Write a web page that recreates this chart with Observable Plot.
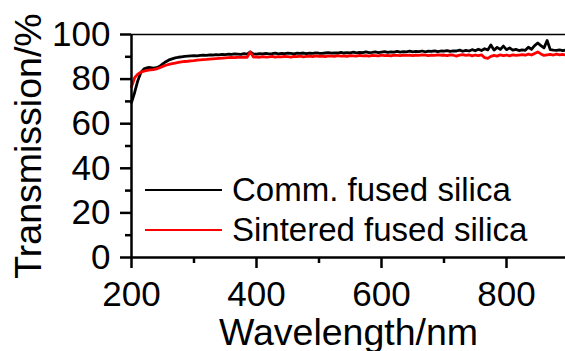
<!DOCTYPE html>
<html>
<head>
<meta charset="utf-8">
<script src="https://cdn.jsdelivr.net/npm/d3@7"></script>
<script src="https://cdn.jsdelivr.net/npm/@observablehq/plot@0.6"></script>
<style>
  body { margin: 0; background: #fff; }
  #wrap { position: relative; width: 565px; height: 351px; overflow: hidden; font-family: "Liberation Sans", Arial, sans-serif; }
  #legend { position: absolute; left: 145px; top: 170px; font-size: 33px; color: #000; }
  .row { display: flex; align-items: center; height: 40px; line-height: 40px; white-space: nowrap; }
  .swatch { display: inline-block; width: 77px; height: 2.5px; margin-right: 10px; }
</style>
</head>
<body>
<div id="wrap"></div>
<script>
// ---- data ----
const seriesNames = ["Comm. fused silica", "Sintered fused silica"];
const seriesColors = ["#000000", "#ff0000"];
const wavelength = [
  200,205,210,215,220,225,230,235,240,245,250,255,260,265,270,275,280,285,290,295,
  300,305,310,315,320,325,330,335,340,345,350,355,360,365,370,375,380,385,390,395,
  400,405,410,415,420,425,430,435,440,445,450,455,460,465,470,475,480,485,490,495,
  500,505,510,515,520,525,530,535,540,545,550,555,560,565,570,575,580,585,590,595,
  600,605,610,615,620,625,630,635,640,645,650,655,660,665,670,675,680,685,690,695,
  700,705,710,715,720,725,730,735,740,745,750,755,760,765,770,775,780,785,790,795,
  800,805,810,815,820,825,830,835,840,845,850,855,860,865,870,875,880,885,890,895,
  900
];
const commTransmission = [
  69.5,74.0,79.2,83.0,84.6,85.1,85.2,84.9,85.1,85.7,86.8,87.8,88.6,89.1,89.5,89.8,90.0,90.2,90.3,90.4,
  90.5,90.4,90.6,90.7,90.6,90.9,90.8,91.0,90.9,91.1,91.0,91.2,91.1,91.3,91.2,91.1,91.4,91.2,92.2,91.3,
  91.2,91.4,91.3,91.5,91.3,91.4,91.6,91.3,91.5,91.4,91.6,91.5,91.3,91.6,91.5,91.7,91.4,91.6,91.5,91.8,
  91.6,91.5,91.7,91.9,91.6,91.8,91.7,92.0,91.7,91.9,91.8,92.1,91.8,92.0,91.9,92.2,91.9,92.0,92.2,91.9,
  92.1,92.3,92.0,92.2,92.1,92.4,92.1,92.3,92.2,92.5,92.2,92.4,92.3,92.6,92.2,92.5,92.4,92.7,92.3,92.6,
  92.5,92.8,92.4,92.7,92.6,93.0,92.5,92.9,92.6,93.2,92.7,93.4,92.8,93.6,93.1,95.3,93.0,94.2,93.3,94.8,
  93.2,94.0,93.0,93.3,92.8,93.1,92.9,94.3,93.4,95.0,96.2,95.0,94.0,97.3,93.2,93.0,92.9,93.1,92.8,93.0,
  92.9
];
const sinteredTransmission = [
  76.5,80.6,82.2,83.1,83.6,83.9,84.1,84.3,84.6,85.1,85.7,86.2,86.6,86.9,87.2,87.5,87.7,87.9,88.0,88.2,
  88.3,88.5,88.6,88.7,88.8,89.0,89.1,89.2,89.3,89.4,89.5,89.6,89.7,89.6,89.8,89.7,89.9,89.8,92.2,89.9,
  90.0,89.8,90.1,89.9,90.0,90.2,89.9,90.1,90.0,90.2,90.1,89.9,90.2,90.1,90.3,90.0,90.2,90.3,90.1,90.4,
  90.2,90.3,90.1,90.4,90.3,90.2,90.5,90.3,90.4,90.2,90.5,90.4,90.3,90.6,90.4,90.5,90.3,90.6,90.5,90.4,
  90.7,90.5,90.6,90.4,90.7,90.6,90.5,90.8,90.6,90.7,90.5,90.8,90.6,90.9,90.7,90.5,90.8,90.6,90.9,90.7,
  90.8,90.5,90.9,90.7,90.3,90.8,91.0,90.6,90.9,90.4,90.8,90.5,90.9,89.6,89.3,90.2,90.6,90.3,90.9,90.5,
  90.8,90.4,90.9,90.6,90.8,91.0,90.7,91.2,90.8,91.5,92.2,91.3,90.6,90.9,91.1,90.8,91.2,90.9,91.1,90.8,
  91.0
];
const xMajorTicks = [200, 400, 600, 800];
const xMinorTicks = [300, 500, 700];
const yMajorTicks = [0, 20, 40, 60, 80, 100];
const yMinorTicks = [10, 30, 50, 70, 90];
const xTitle = "Wavelength/nm";
const yTitle = "Transmission/%";

// ---- build ----
const comm = wavelength.map((w, i) => ({w, t: commTransmission[i]}));
const sint = wavelength.map((w, i) => ({w, t: sinteredTransmission[i]}));

const chart = Plot.plot({
  width: 565,
  height: 351,
  marginLeft: 131,
  marginRight: 0,
  marginTop: 34,
  marginBottom: 94,
  style: {fontFamily: "'Liberation Sans', Arial, sans-serif", color: "#000", background: "#fff", overflow: "visible"},
  x: {domain: [200, 900], range: [131, 568.5]},
  y: {domain: [0, 100]},
  marks: [
    Plot.line(comm, {x: "w", y: "t", stroke: seriesColors[0], strokeWidth: 2.8}),
    Plot.line(sint, {x: "w", y: "t", stroke: seriesColors[1], strokeWidth: 2.8}),
    Plot.ruleY([100], {stroke: "#000", strokeWidth: 1.5}),
    Plot.ruleY([0], {stroke: "#000", strokeWidth: 2.5}),
    Plot.ruleX([200], {stroke: "#000", strokeWidth: 2.5}),
    Plot.axisX({ticks: xMajorTicks, tickSize: 11, tickPadding: 13, strokeWidth: 2.5, fontSize: 35, label: null, tickFormat: d => String(d)}),
    Plot.axisX({ticks: xMinorTicks, tickSize: 6, strokeWidth: 2.5, label: null, tickFormat: () => ""}),
    Plot.axisY({ticks: yMajorTicks, tickSize: 11, tickPadding: 10, strokeWidth: 2.5, fontSize: 35, label: null, tickFormat: d => String(d)}),
    Plot.axisY({ticks: yMinorTicks, tickSize: 6, strokeWidth: 2.5, label: null, tickFormat: () => ""}),
    Plot.text([yTitle], {text: d => d, frameAnchor: "left", rotate: -90, dx: -103, fontSize: 37.5, textAnchor: "middle", lineAnchor: "middle"}),
    Plot.text([xTitle], {text: d => d, frameAnchor: "bottom", dy: 75, fontSize: 37.5, textAnchor: "middle", lineAnchor: "middle"})
  ]
});

const wrap = document.getElementById("wrap");
wrap.appendChild(chart);

const legend = document.createElement("div");
legend.id = "legend";
seriesNames.forEach((name, i) => {
  const row = document.createElement("div");
  row.className = "row";
  const sw = document.createElement("span");
  sw.className = "swatch";
  sw.style.background = seriesColors[i];
  const label = document.createElement("span");
  label.textContent = name;
  row.appendChild(sw);
  row.appendChild(label);
  legend.appendChild(row);
});
wrap.appendChild(legend);
</script>
</body>
</html>
